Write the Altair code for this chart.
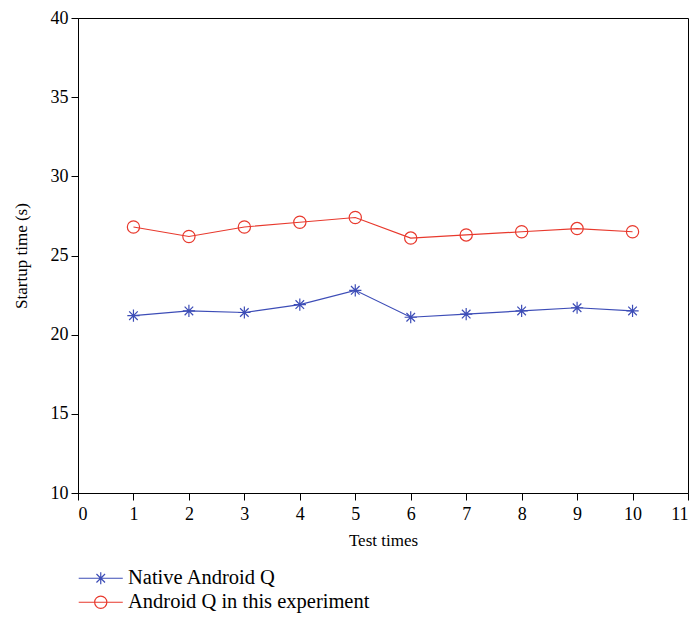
import altair as alt
import pandas as pd

tests = [1, 2, 3, 4, 5, 6, 7, 8, 9, 10]
native = [21.2, 21.5, 21.4, 21.9, 22.8, 21.1, 21.3, 21.5, 21.7, 21.5]
experiment = [26.8, 26.2, 26.8, 27.1, 27.4, 26.1, 26.3, 26.5, 26.7, 26.5]
series_names = ["Native Android Q", "Android Q in this experiment"]
colors = ["#3d4db7", "#e8392d"]
x_ticks = list(range(0, 12))
y_ticks = list(range(10, 41, 5))

rows = []
for t, v in zip(tests, native):
    rows.append({"test": t, "time": v, "series": series_names[0]})
for t, v in zip(tests, experiment):
    rows.append({"test": t, "time": v, "series": series_names[1]})
df = pd.DataFrame(rows)

ASTER = "M-1,0H1M0,-1V1M-0.7,-0.7L0.7,0.7M-0.7,0.7L0.7,-0.7"
CIRC = "M-1,0A1,1 0 1,1 1,0A1,1 0 1,1 -1,0Z"
LEG_ASTER = "M-3.6,0H3.6M0,-1V1M-0.7,-0.7L0.7,0.7M-0.7,0.7L0.7,-0.7"
LEG_CIRC = "M-3.6,0H3.6M-1,0A1,1 0 1,1 1,0A1,1 0 1,1 -1,0Z"

x_enc = alt.X("test:Q", scale=alt.Scale(domain=[0, 11], nice=False),
              axis=alt.Axis(values=x_ticks, title="Test times", format="d"))
y_enc = alt.Y("time:Q", scale=alt.Scale(domain=[10, 40], nice=False),
              axis=alt.Axis(values=y_ticks, title="Startup time (s)", format="d"))

color_scale = alt.Scale(domain=series_names, range=colors)

lines = alt.Chart(df).mark_line(strokeWidth=1.2).encode(
    x=x_enc, y=y_enc,
    color=alt.Color("series:N", scale=color_scale, legend=None),
    detail="series:N",
)

points = alt.Chart(df).mark_point(filled=False, size=150, strokeWidth=1.2, opacity=1).encode(
    x=x_enc, y=y_enc,
    color=alt.Color("series:N", scale=color_scale, legend=None),
    shape=alt.Shape("series:N", scale=alt.Scale(domain=series_names, range=[ASTER, CIRC]), legend=None),
)

leg_props = dict(
    title=None, orient="none", legendX=12.5, legendY=550,
    symbolSize=150, symbolStrokeWidth=1.2, labelOffset=17, labelLimit=0,
    labelFontSize=20.5, labelColor="black", rowPadding=3, padding=0,
)

legend_layer = alt.Chart(df).transform_filter("false").mark_point(
    filled=False, size=150, strokeWidth=1.2, opacity=1
).encode(
    x=x_enc, y=y_enc,
    color=alt.Color("series:N", scale=color_scale, legend=alt.Legend(**leg_props)),
    shape=alt.Shape("series:N", scale=alt.Scale(domain=series_names, range=[LEG_ASTER, LEG_CIRC]),
                    legend=alt.Legend(**leg_props)),
)

chart = alt.layer(lines, points, legend_layer).resolve_scale(
    shape="independent", color="independent"
).properties(
    width=610, height=475,
    padding={"left": 70, "top": 10, "right": 3, "bottom": 124},
    autosize=alt.AutoSizeParams(type="none"),
).configure(
    font="Liberation Serif",
).configure_view(
    stroke="black", strokeWidth=1,
).configure_axis(
    grid=False, labelFontSize=18, titleFontSize=17, titleFontWeight="normal",
    labelColor="black", titleColor="black", domainColor="black", tickColor="black",
    tickSize=7, labelPadding=3, domainWidth=1,
).configure_axisY(
    titlePadding=20,
).configure_axisX(
    titlePadding=9, labelPadding=5,
)

chart.save("out.html", embed_options={"renderer": "svg", "actions": False})
